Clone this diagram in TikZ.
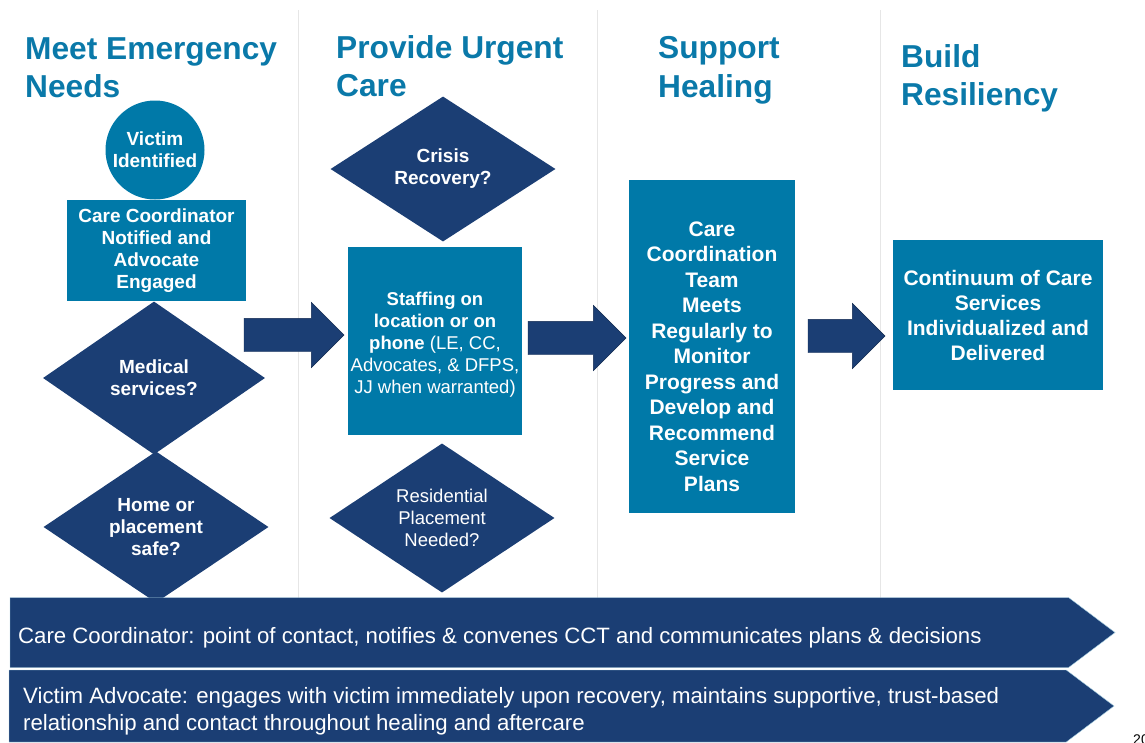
\documentclass[tikz,border=0pt]{standalone}
\usepackage{fontspec}
\setmainfont{Liberation Sans}
\usetikzlibrary{shapes.geometric,shapes.arrows,shapes.symbols}
\definecolor{phaseblue}{HTML}{0A79A9}
\definecolor{boxteal}{HTML}{0079A8}
\definecolor{decnavy}{HTML}{1B3E74}
\definecolor{sepgray}{HTML}{E6E6E6}

\begin{document}
\begin{tikzpicture}[x=1pt,y=-1pt,
phase/.style={anchor=west,align=left,text=phaseblue,inner sep=0pt,
  font=\fontsize{31.7}{38.5}\selectfont\bfseries},
box/.style={rectangle,fill=boxteal,text=white,align=center,inner sep=0pt,
  font=\fontsize{19}{22}\selectfont\bfseries},
decision/.style={diamond,fill=decnavy,text=white,align=center,inner sep=0pt,
  font=\fontsize{19}{22}\selectfont\bfseries},
bigarrow/.style={single arrow,fill=decnavy,draw=decnavy!70!black,anchor=tail,
  single arrow head extend=16,inner xsep=0pt,inner ysep=16.5pt,outer sep=0pt},
banner/.style={signal,signal to=east,signal pointer angle=74,fill=decnavy,anchor=west,
  draw=boxteal!35,minimum height=70,minimum width=1105,inner sep=0pt,outer sep=0pt}]
\useasboundingbox (0,0) rectangle (1145,742);

% column separators
\foreach \x in {298,597,880}
  \draw[sepgray] (\x,10) -- (\x,598);

% phase headings
\node[phase] (needs) at (25,67.5) {Meet Emergency\\Needs};
\node[phase] (urgent) at (336,66) {Provide Urgent\\Care};
\node[phase] (healing) at (658,70.5) {Support\\Healing};
\node[phase] (resiliency) at (901,78.5) {Build\\Resiliency};

% Meet emergency needs
\node[box,circle,minimum size=99] (victim) at (155,150) {Victim\\Identified};
\node[box,minimum width=179,minimum height=101] (notified) at (156.5,250.5)
  {Care Coordinator\\Notified and\\Advocate\\Engaged};
\node[decision,minimum width=222,minimum height=153] (medical) at (154,378) {Medical\\services?};
\node[decision,minimum width=225,minimum height=145] (home) at (156,527) {Home or\\placement\\safe?};

% Provide urgent care
\node[decision,minimum width=225,minimum height=145] (crisis) at (443,169) {Crisis\\Recovery?};
\node[box,minimum width=174,minimum height=188] (staffing) at (435,341) {};
\node[text=white,align=center,inner sep=0pt,font=\fontsize{18.5}{22}\selectfont]
  (staffing text) at ([yshift=-4pt]staffing.center)
  {\textbf{Staffing on}\\\textbf{location or on}\\\textbf{phone} (LE, CC,\\Advocates, \& DFPS,\\JJ when warranted)};
\node[decision,minimum width=225,minimum height=145,font=\fontsize{18.5}{22}\selectfont] (residential) at (442,518)
  {Residential\\Placement\\Needed?};

% Support healing
\node[box,minimum width=166,minimum height=333] (cct) at (712,346.5) {};
\node[text=white,align=center,inner sep=0pt,font=\fontsize{21}{25.5}\selectfont\bfseries]
  (cct text) at ([yshift=-10pt]cct.center)
  {Care\\Coordination\\Team\\Meets\\Regularly to\\Monitor\\Progress and\\Develop and\\Recommend\\Service\\Plans};

% Build resiliency
\node[box,minimum width=210,minimum height=150,font=\fontsize{21}{25}\selectfont\bfseries] (continuum) at (998,315)
  {Continuum of Care\\Services\\Individualized and\\Delivered};

% arrows between the phases
\node[bigarrow,minimum height=100] (step one) at (244,335) {};
\node[bigarrow,minimum height=98] (step two) at (528,338) {};
\node[bigarrow,minimum height=77] (step three) at (808,336) {};

% roles running through all phases
\node[banner] (coordinator) at (10,632.5) {};
\node[banner,minimum height=72] (advocate) at (9,706) {};
\begin{scope}[every node/.style={anchor=west,align=left,text=white,inner sep=0pt,
  font=\fontsize{22.2}{26.5}\selectfont}]
  \node (coordinator text) at (18,638)
    {Care Coordinator: point of contact, notifies \& convenes CCT and communicates plans \& decisions};
  \node (advocate text) at (23,711)
    {Victim Advocate: engages with victim immediately upon recovery, maintains supportive, trust-based\\relationship and contact throughout healing and aftercare};
\end{scope}

\node[anchor=north,inner sep=0pt,font=\fontsize{14}{14}\selectfont] (page) at (1141,735) {20};
\end{tikzpicture}
\end{document}
